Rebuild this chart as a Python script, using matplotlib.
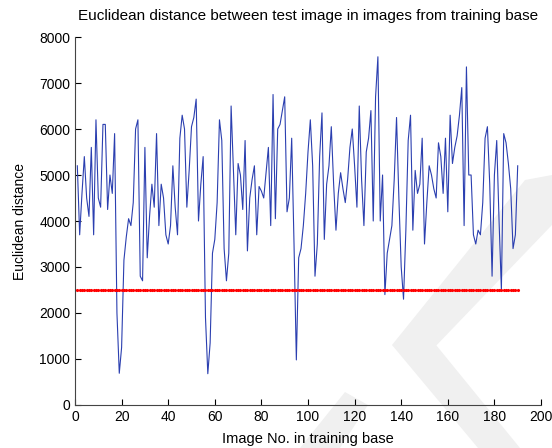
import matplotlib
matplotlib.use("Agg")
import matplotlib.pyplot as plt
from matplotlib.patches import Polygon
import numpy as np

plt.rcParams['font.family'] = ['Liberation Sans', 'DejaVu Sans']

image_no = list(range(1, 191))
distance = [
    5200, 3700, 4600, 5400, 4500, 4100, 5600, 3700, 6200, 4500,
    4300, 6100, 6100, 4250, 5000, 4600, 5900, 2000, 690, 1250,
    3150, 3650, 4050, 3900, 4400, 6000, 6200, 2800, 2700, 5600,
    3200, 4100, 4800, 4300, 5900, 3900, 4800, 4500, 3700, 3500,
    3900, 5200, 4300, 3700, 5800, 6300, 6000, 4300, 5100, 6050,
    6250, 6650, 4000, 4800, 5400, 1900, 680, 1350, 3300, 3600,
    4400, 6200, 5750, 3400, 2700, 3300, 6500, 5100, 3700, 5250,
    5000, 4250, 5750, 3350, 4500, 4900, 5200, 3700, 4750, 4650,
    4500, 5050, 5600, 3900, 6750, 4050, 6000, 6100, 6400, 6700,
    4200, 4500, 5800, 3500, 980, 3200, 3400, 3900, 4600, 5500,
    6200, 5200, 2800, 3500, 5400, 6350, 3600, 4800, 5200, 6050,
    4800, 3800, 4600, 5050, 4700, 4400, 4900, 5600, 6000, 5200,
    4300, 6500, 4900, 3900, 5500, 5800, 6400, 4000, 6700, 7570,
    4000, 5000, 2400, 3300, 3600, 3900, 4900, 6250, 4500, 3000,
    2300, 3800, 5750, 6300, 3800, 5100, 4600, 4800, 5800, 3500,
    4400, 5200, 5000, 4700, 4500, 5700, 5400, 4600, 5800, 4200,
    6300, 5250, 5600, 5850, 6300, 6900, 3900, 7350, 5000, 5000,
    3700, 3500, 3800, 3700, 4400, 5800, 6050, 4800, 2800, 5000,
    5750, 4000, 2500, 5900, 5700, 5250, 4700, 3400, 3700, 5200,
]
threshold = [2500] * len(image_no)

xticks = list(range(0, 201, 20))
yticks = list(range(0, 8001, 1000))

W, H = 552, 448
fig = plt.figure(figsize=(W / 100, H / 100), dpi=100)
fig.patch.set_facecolor('white')


def px(points):
    return [[x / W, 1 - y / H] for x, y in points]


# light watermark shapes behind the plot
wm = '#f0f0f0'
for pts in [
    [(392, 345), (525, 180), (552, 175), (552, 225), (432, 350)],
    [(392, 345), (432, 340), (520, 448), (478, 448)],
    [(300, 448), (345, 392), (368, 405), (340, 448)],
]:
    fig.patches.append(Polygon(px(pts), closed=True, transform=fig.transFigure,
                               facecolor=wm, edgecolor='none', zorder=0))

ax = fig.add_axes([75 / W, 1 - 405 / H, (541 - 75) / W, (405 - 37) / H])
ax.set_zorder(2)
ax.set_facecolor('none')
ax.plot(image_no, distance, color='#2b3fb0', linewidth=0.8, zorder=3)
ax.plot(image_no, threshold, color='red', linewidth=0.8, marker='.', markersize=2.5, zorder=4)

ax.set_xlim(0, 200)
ax.set_ylim(0, 8000)
ax.set_xticks(xticks)
ax.set_yticks(yticks)
ax.tick_params(direction='in', length=4, labelsize=10, colors='black', width=0.8)
for s in ['top', 'right']:
    ax.spines[s].set_visible(False)
for s in ['left', 'bottom']:
    ax.spines[s].set_color('#444444')
    ax.spines[s].set_linewidth(0.8)

ax.set_title('Euclidean distance between test image in images from training base', fontsize=11, pad=12)
ax.set_xlabel('Image No. in training base', fontsize=10.5, labelpad=6)
ax.set_ylabel('Euclidean distance', fontsize=10, labelpad=9)

fig.savefig('out.png', dpi=100, facecolor='white')
